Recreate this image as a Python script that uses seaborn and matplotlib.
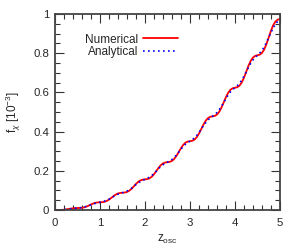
import numpy as np
import pandas as pd
import matplotlib
matplotlib.use('Agg')
import matplotlib.pyplot as plt
from matplotlib.ticker import MultipleLocator
import seaborn as sns

z_osc = np.round(np.arange(0, 5.001, 0.05), 2)
numerical = [
    0.000, 0.000, 0.000, 0.0001, 0.0009, 0.0024, 0.0045, 0.0066, 0.0083, 0.0094,
    0.0098, 0.0100, 0.0109, 0.0131, 0.0169, 0.0219, 0.0275, 0.0326, 0.0363, 0.0383,
    0.0390, 0.0396, 0.0414, 0.0456, 0.0523, 0.0609, 0.0701, 0.0781, 0.0838, 0.0867,
    0.0878, 0.0887, 0.0915, 0.0976, 0.1072, 0.1194, 0.1322, 0.1432, 0.1507, 0.1546,
    0.1560, 0.1573, 0.1610, 0.1690, 0.1816, 0.1974, 0.2138, 0.2277, 0.2372, 0.2420,
    0.2438, 0.2454, 0.2500, 0.2600, 0.2756, 0.2949, 0.3148, 0.3317, 0.3432, 0.3489,
    0.3510, 0.3529, 0.3586, 0.3705, 0.3890, 0.4119, 0.4354, 0.4552, 0.4686, 0.4754,
    0.4778, 0.4800, 0.4866, 0.5005, 0.5219, 0.5484, 0.5755, 0.5982, 0.6136, 0.6213,
    0.6240, 0.6266, 0.6341, 0.6500, 0.6744, 0.7044, 0.7350, 0.7607, 0.7781, 0.7867,
    0.7898, 0.7927, 0.8012, 0.8190, 0.8463, 0.8799, 0.9141, 0.9428, 0.9620, 0.9716,
    0.9750,
]
analytical = [
    0.000, 0.000, 0.000, 0.0005, 0.0013, 0.0024, 0.0040, 0.0056, 0.0072, 0.0086,
    0.0098, 0.0110, 0.0126, 0.0149, 0.0181, 0.0219, 0.0261, 0.0302, 0.0337, 0.0366,
    0.0390, 0.0415, 0.0446, 0.0489, 0.0544, 0.0609, 0.0678, 0.0743, 0.0798, 0.0841,
    0.0878, 0.0914, 0.0960, 0.1023, 0.1102, 0.1194, 0.1290, 0.1379, 0.1453, 0.1512,
    0.1560, 0.1609, 0.1670, 0.1752, 0.1855, 0.1974, 0.2097, 0.2210, 0.2303, 0.2377,
    0.2438, 0.2499, 0.2575, 0.2676, 0.2803, 0.2949, 0.3099, 0.3236, 0.3349, 0.3437,
    0.3510, 0.3583, 0.3674, 0.3795, 0.3947, 0.4119, 0.4296, 0.4456, 0.4589, 0.4693,
    0.4778, 0.4863, 0.4969, 0.5109, 0.5285, 0.5484, 0.5687, 0.5872, 0.6025, 0.6143,
    0.6240, 0.6338, 0.6458, 0.6618, 0.6818, 0.7044, 0.7274, 0.7483, 0.7655, 0.7788,
    0.7898, 0.8007, 0.8143, 0.8322, 0.8546, 0.8799, 0.9056, 0.9289, 0.9480, 0.9629,
    0.9750,
]
x_ticks = [0, 1, 2, 3, 4, 5]
x_labels = ['0', '1', '2', '3', '4', '5']
y_ticks = [0, 0.2, 0.4, 0.6, 0.8, 1.0]
y_labels = ['0', '0.2', '0.4', '0.6', '0.8', '1']

df = pd.DataFrame({'z': z_osc, 'Numerical': numerical, 'Analytical': analytical})

sns.set_style('ticks')
plt.rcParams['font.family'] = ['Liberation Sans', 'DejaVu Sans']
plt.rcParams['mathtext.fontset'] = 'custom'
plt.rcParams['mathtext.rm'] = 'Liberation Sans'
plt.rcParams['mathtext.it'] = 'Liberation Sans:italic'

fig = plt.figure(figsize=(3.0, 2.52), dpi=100)
ax = fig.add_axes([0.183, 0.167, 0.75, 0.777])

sns.lineplot(data=df, x='z', y='Numerical', ax=ax, color='#ff0000', lw=1.3, label='Numerical')
sns.lineplot(data=df, x='z', y='Analytical', ax=ax, color='#0000ff', lw=1.2,
             linestyle=(0, (1, 2.0)), label='Analytical')

ax.set_xlim(0, 5)
ax.set_ylim(0, 1)
ax.set_xticks(x_ticks)
ax.set_xticklabels(x_labels)
ax.set_yticks(y_ticks)
ax.set_yticklabels(y_labels)
ax.xaxis.set_minor_locator(MultipleLocator(0.2))
ax.yaxis.set_minor_locator(MultipleLocator(0.05))
ax.tick_params(which='both', direction='in', top=True, right=True, labelsize=8.2,
               color='#333333', width=0.8, pad=4)
ax.tick_params(axis='x', which='both', pad=5.5)
ax.tick_params(which='major', length=6.5)
ax.tick_params(which='minor', length=3.6)
for sp in ax.spines.values():
    sp.set_color('#444444')
    sp.set_linewidth(1.3)

ax.set_xlabel('z$_{\\mathrm{osc}}$', fontsize=8.5, labelpad=4)
ax.set_ylabel('f$_{\\chi}$ [10$^{-3}$]', fontsize=8.5, labelpad=7.5)

ax.legend(loc='upper left', bbox_to_anchor=(0.115, 0.925), frameon=False, markerfirst=False,
          fontsize=8.5, handlelength=2.9, handletextpad=0.4, labelspacing=0.05,
          borderaxespad=0)

fig.savefig('out.png', dpi=100)
